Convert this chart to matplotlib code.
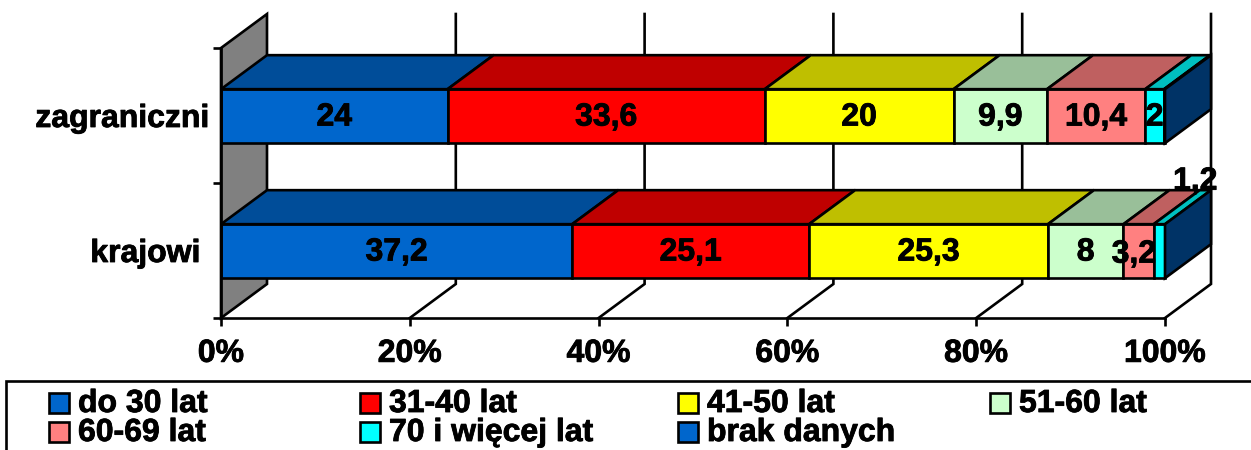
import matplotlib
matplotlib.use("Agg")
import matplotlib.pyplot as plt
import matplotlib.patheffects as pe
from matplotlib.patches import Rectangle
from matplotlib.text import Text
import numpy as np

plt.rcParams['font.family'] = ['Liberation Sans', 'DejaVu Sans']
plt.rcParams['font.weight'] = 'bold'
plt.rcParams['font.size'] = 23

categories = ["krajowi ", "zagraniczni"]
series_names = ["do 30 lat", "31-40 lat", "41-50 lat", "51-60 lat",
                "60-69 lat", "70 i więcej lat", "brak danych"]
colors = ["#0066CC", "#FF0000", "#FFFF00", "#CCFFCC", "#FF8080", "#00FFFF", "#0066CC"]

krajowi = [37.2, 25.1, 25.3, 8, 3.2, 1.2, 0]
zagraniczni = [24, 33.6, 20, 9.9, 10.4, 2, 0.1]
value_labels_k = ["37,2", "25,1", "25,3", "8", "3,2", "1,2", ""]
value_labels_z = ["24", "33,6", "20", "9,9", "10,4", "2", ""]
xticks = [0, 20, 40, 60, 80, 100]

W, H = 1251, 450
LW = 1.9
# depth of the fake 3d, in data units
DX = 46 / 9.44
DY = 34 / 135
BAR_H = 0.4


def shade(color, k):
    r, g, b = matplotlib.colors.to_rgb(color)
    return (r * k, g * k, b * k)


fig = plt.figure(figsize=(W / 100, H / 100), dpi=100)
ax = fig.add_axes([221 / W, (H - 318) / H, (1165 - 221) / W, (318 - 48) / H])
ax.set_xlim(0, 100)
ax.set_ylim(0, 2)

for s in ["top", "right"]:
    ax.spines[s].set_visible(False)
for s in ["left", "bottom"]:
    ax.spines[s].set_linewidth(LW)
    ax.spines[s].set_zorder(6)

# left wall
ax.fill([0, DX, DX, 0], [0, DY, 2 + DY, 2], facecolor="#808080", edgecolor="black",
        linewidth=LW, clip_on=False, zorder=1)

# back and floor grid
for t in xticks[1:]:
    ax.plot([t, t + DX, t + DX], [0, DY, 2 + DY], color="black", linewidth=LW,
            clip_on=False, zorder=1, solid_joinstyle="miter")

ax.set_xticks(xticks)
ax.set_xticklabels([f"{t}%" for t in xticks])
ax.set_yticks([0, 1, 2])
ax.set_yticklabels([])
ax.set_yticks([0.5, 1.5], minor=True)
ax.set_yticklabels(categories, minor=True)
ax.tick_params(axis="x", length=6, width=LW, pad=9)
ax.tick_params(axis="y", which="major", length=6, width=LW)
ax.tick_params(axis="y", which="minor", length=0, pad=8.5)

rows = [(0.495, krajowi, value_labels_k), (1.495, zagraniczni, value_labels_z)]
for y, row, labels in rows:
    vals = np.array(row, dtype=float)
    vals = vals / vals.sum() * 100
    left = 0
    top = y + BAR_H / 2
    for i, v in enumerate(vals):
        if v > 0:
            ax.barh(y, v, left=left, height=BAR_H, color=colors[i], edgecolor="black",
                    linewidth=LW, zorder=3, clip_on=False)
            ax.fill([left, left + v, left + v + DX, left + DX], [top, top, top + DY, top + DY],
                    facecolor=shade(colors[i], 0.75), edgecolor="black", linewidth=LW,
                    clip_on=False, zorder=3)
        if labels[i]:
            xt, yt = left + v / 2, y - 0.01
            # two labels were moved by hand in the original
            if labels[i] == "1,2":
                xt, yt = 103.2, y + 0.515
            elif labels[i] == "3,2":
                xt, yt = 96.7, y - 0.025
            ax.text(xt, yt, labels[i], ha="center", va="center", zorder=7, clip_on=False)
        left += v
    # end cap
    bot = y - BAR_H / 2
    ax.fill([100, 100 + DX, 100 + DX, 100], [bot, bot + DY, top + DY, top],
            facecolor=shade(colors[-1], 0.5), edgecolor="black", linewidth=LW,
            clip_on=False, zorder=4)


# legend box, cut off by the figure edge like the original
def px(x, y):
    return x / W, (H - y) / H


x0, y0 = px(6, 381)
fig.add_artist(Rectangle((x0, -0.1), 1.2, y0 + 0.1, transform=fig.transFigure,
                         facecolor="white", edgecolor="black", linewidth=LW))
col_x = [49, 360, 678, 990]
row_y = [404, 433]
for i, name in enumerate(series_names):
    c, r = (i, 0) if i < 4 else (i - 4, 1)
    sx, sy = px(col_x[c], row_y[r] + 9)
    fig.add_artist(Rectangle((sx, sy), 20 / W, 20 / H, transform=fig.transFigure,
                             facecolor=colors[i], edgecolor="black", linewidth=LW))
    tx, ty = px(col_x[c] + 29, row_y[r])
    fig.text(tx, ty, name, ha="left", va="center")

# the original text is a bit heavier than plain bold
for t in fig.findobj(Text):
    t.set_path_effects([pe.withStroke(linewidth=0.6, foreground="black")])

fig.savefig("out.png", dpi=100)
